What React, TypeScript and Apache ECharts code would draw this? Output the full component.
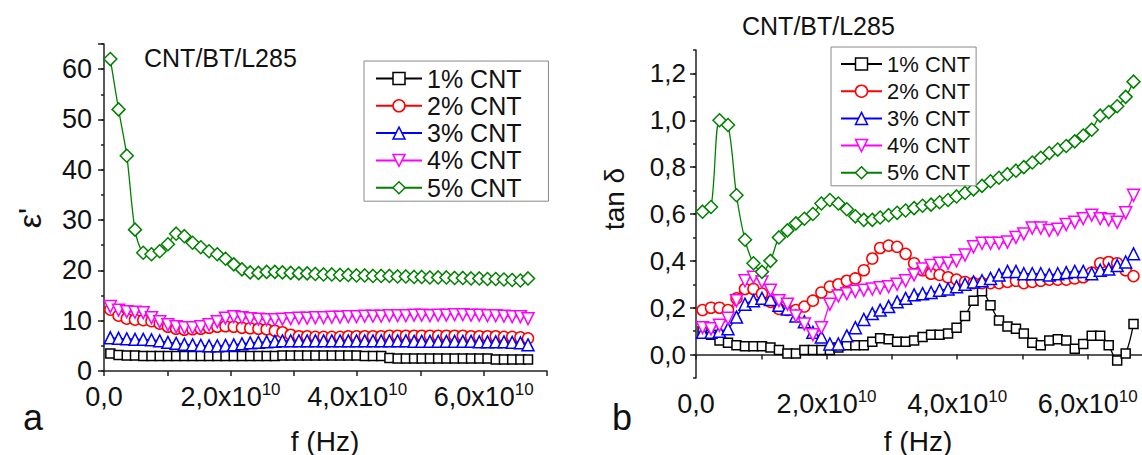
import React, { useEffect, useRef } from "react";
import * as echarts from "echarts";

// frequency in units of 1e10 Hz
const FREQ = [
  0.10, 0.23, 0.36, 0.49, 0.62, 0.75, 0.88, 1.01, 1.14, 1.27,
  1.40, 1.53, 1.66, 1.79, 1.92, 2.05, 2.18, 2.31, 2.44, 2.57,
  2.70, 2.82, 2.95, 3.08, 3.21, 3.34, 3.47, 3.60, 3.73, 3.86,
  3.99, 4.12, 4.25, 4.38, 4.51, 4.64, 4.77, 4.90, 5.02, 5.15,
  5.28, 5.41, 5.54, 5.67, 5.80, 5.93, 6.06, 6.19, 6.32, 6.45,
  6.58, 6.70,
];

const SERIES_NAMES = ["1% CNT", "2% CNT", "3% CNT", "4% CNT", "5% CNT"];

// panel a: epsilon'
const EPS_1 = [
  3.5, 3.2, 3.1, 3.1, 3.0, 3.0, 3.0, 3.0, 3.0, 3.0,
  3.0, 3.0, 3.0, 3.0, 3.0, 3.0, 3.0, 3.0, 3.0, 3.0,
  3.0, 3.1, 3.1, 3.1, 3.1, 3.1, 3.1, 3.1, 3.1, 3.1,
  3.1, 3.0, 3.0, 3.0, 2.6, 2.5, 2.5, 2.5, 2.5, 2.5,
  2.5, 2.5, 2.5, 2.5, 2.5, 2.5, 2.5, 2.3, 2.3, 2.3,
  2.3, 2.3,
];
const EPS_2 = [
  12.2, 11.0, 10.4, 10.2, 10.1, 9.9, 9.4, 8.8, 8.4, 8.2,
  8.3, 8.4, 8.6, 8.8, 8.9, 8.8, 8.6, 8.5, 8.4, 8.3,
  8.0, 7.7, 7.2, 6.9, 6.9, 6.8, 6.8, 6.8, 6.8, 6.9,
  6.9, 6.9, 6.9, 6.9, 7.0, 7.0, 7.0, 7.0, 7.0, 7.0,
  7.0, 7.0, 7.0, 7.0, 6.9, 6.9, 6.9, 6.9, 6.8, 6.8,
  6.7, 6.5,
];
const EPS_3 = [
  6.6, 6.5, 6.4, 6.3, 6.3, 6.2, 6.0, 5.7, 5.5, 5.3,
  5.2, 5.1, 5.0, 5.0, 5.1, 5.2, 5.4, 5.6, 5.7, 5.8,
  5.9, 6.0, 6.0, 6.0, 6.0, 6.0, 6.0, 6.0, 6.0, 6.0,
  6.0, 6.0, 6.0, 6.0, 6.0, 6.0, 6.0, 5.9, 5.9, 5.9,
  5.9, 5.9, 5.9, 5.9, 5.9, 5.8, 5.8, 5.8, 5.8, 5.7,
  5.6, 5.2,
];
const EPS_4 = [
  12.8, 12.1, 11.8, 11.7, 11.6, 10.6, 9.8, 9.2, 8.8, 8.6,
  8.6, 8.8, 9.2, 9.8, 10.5, 10.8, 10.6, 10.4, 10.3, 10.2,
  10.2, 10.3, 10.4, 10.5, 10.5, 10.6, 10.6, 10.7, 10.7, 10.8,
  10.8, 10.9, 10.9, 10.9, 11.0, 11.0, 11.0, 11.1, 11.1, 11.0,
  11.1, 11.1, 11.2, 11.2, 11.1, 11.1, 11.0, 11.0, 10.9, 10.8,
  10.8, 10.4,
];
const EPS_5 = [
  62, 52, 42.8, 28.1, 23.5, 23.2, 23.8, 25.2, 27.3, 26.8,
  25.5, 24.6, 23.8, 23.2, 22.3, 21.2, 20.2, 19.6, 19.5, 19.7,
  19.7, 19.6, 19.5, 19.4, 19.4, 19.3, 19.2, 19.2, 19.1, 19.1,
  19.0, 19.0, 18.9, 18.9, 18.9, 18.8, 18.8, 18.7, 18.7, 18.6,
  18.6, 18.6, 18.5, 18.5, 18.4, 18.4, 18.3, 18.3, 18.2, 18.1,
  18.0, 18.4,
];

// panel b: tan delta
const TAN_1 = [
  0.10, 0.085, 0.06, 0.05, 0.04, 0.035, 0.035, 0.035, 0.03, 0.02,
  0.005, 0.005, 0.02, 0.02, 0.02, 0.02, 0.03, 0.04, 0.04, 0.04,
  0.055, 0.07, 0.065, 0.055, 0.055, 0.06, 0.075, 0.085, 0.085, 0.09,
  0.115, 0.165, 0.23, 0.27, 0.21, 0.145, 0.12, 0.11, 0.09, 0.05,
  0.04, 0.06, 0.065, 0.06, 0.025, 0.045, 0.08, 0.08, 0.04, -0.025,
  0.005, 0.13,
];
const TAN_2 = [
  0.19, 0.20, 0.20, 0.19, 0.24, 0.28, 0.28, 0.26, 0.225, 0.195,
  0.19, 0.19, 0.205, 0.23, 0.265, 0.29, 0.30, 0.315, 0.325, 0.36,
  0.41, 0.455, 0.465, 0.46, 0.43, 0.39, 0.36, 0.345, 0.34, 0.33,
  0.32, 0.31, 0.305, 0.305, 0.305, 0.305, 0.31, 0.315, 0.305, 0.31,
  0.315, 0.32, 0.32, 0.32, 0.325, 0.33, 0.35, 0.39, 0.395, 0.39,
  0.36, 0.335,
];
const TAN_3 = [
  0.095, 0.095, 0.10, 0.11, 0.16, 0.215, 0.23, 0.24, 0.235, 0.21,
  0.195, 0.165, 0.14, 0.095, 0.075, 0.045, 0.045, 0.08, 0.115, 0.15,
  0.175, 0.19, 0.205, 0.225, 0.24, 0.255, 0.26, 0.265, 0.275, 0.28,
  0.29, 0.30, 0.31, 0.315, 0.325, 0.34, 0.355, 0.355, 0.345, 0.345,
  0.345, 0.34, 0.345, 0.35, 0.355, 0.355, 0.345, 0.36, 0.365, 0.38,
  0.395, 0.43,
];
const TAN_4 = [
  0.115, 0.11, 0.125, 0.155, 0.23, 0.315, 0.33, 0.31, 0.275, 0.23,
  0.215, 0.165, 0.13, 0.085, 0.115, 0.215, 0.25, 0.26, 0.27, 0.275,
  0.28, 0.285, 0.29, 0.30, 0.315, 0.34, 0.365, 0.38, 0.39, 0.39,
  0.40, 0.425, 0.46, 0.475, 0.475, 0.475, 0.48, 0.50, 0.515, 0.54,
  0.54, 0.53, 0.535, 0.555, 0.565, 0.58, 0.595, 0.58, 0.575, 0.565,
  0.605, 0.68,
];
const TAN_5 = [
  0.61, 0.63, 1.00, 0.98, 0.68, 0.49, 0.39, 0.353, 0.40, 0.50,
  0.53, 0.56, 0.58, 0.60, 0.645, 0.66, 0.645, 0.62, 0.59, 0.575,
  0.575, 0.585, 0.595, 0.605, 0.615, 0.625, 0.635, 0.64, 0.65, 0.66,
  0.675, 0.69, 0.705, 0.72, 0.74, 0.755, 0.77, 0.785, 0.80, 0.82,
  0.84, 0.86, 0.875, 0.89, 0.91, 0.935, 0.96, 1.02, 1.035, 1.06,
  1.10, 1.165,
];

const X_TICK_LABELS = ["0,0", "2,0x10", "4,0x10", "6,0x10"];
const TAN_MAJOR_TICKS = [0, 0.2, 0.4, 0.6, 0.8, 1.0, 1.2];
const PANEL_TITLE = "CNT/BT/L285";

const COLORS = ["#000000", "#ff0000", "#0000ff", "#ff00ff", "#008000"];
const SYMBOLS = ["rect", "circle", "triangle", "triangle", "diamond"];
const SYMBOL_SIZES = [9, 11, 12, 12, 13];
const SYMBOL_ROTATE = [0, 0, 0, 180, 0];

const FONT = "'Liberation Sans', Arial, sans-serif";
const TXT = "#111";

function xLabel(v: number) {
  const n = Math.round(v);
  if (n === 0) return "{m|" + X_TICK_LABELS[0] + "}";
  if (n % 2 !== 0 || n > 6) return "";
  return "{m|" + X_TICK_LABELS[n / 2] + "}{s|10}";
}

const xRich = {
  m: { fontSize: 27, fontFamily: FONT, color: TXT, lineHeight: 31 },
  s: { fontSize: 17, fontFamily: FONT, color: TXT, lineHeight: 17, verticalAlign: "top" },
};

function makeSeries(data: number[][], xAxisIndex: number, yAxisIndex: number) {
  return data.map((vals, k) => ({
    name: SERIES_NAMES[k],
    type: "line",
    xAxisIndex,
    yAxisIndex,
    data: FREQ.map((f, i) => [f, vals[i]]),
    symbol: SYMBOLS[k],
    symbolSize: SYMBOL_SIZES[k],
    symbolRotate: SYMBOL_ROTATE[k],
    smooth: 0.3,
    lineStyle: { color: COLORS[k], width: 1.3 },
    itemStyle: { color: "#ffffff", borderColor: COLORS[k], borderWidth: 1.5 },
    emphasis: { disabled: true },
  }));
}

export default function App() {
  const ref = useRef<HTMLDivElement>(null);
  useEffect(() => {
    if (!ref.current) return;
    const chart = echarts.init(ref.current, undefined, { renderer: "svg" });
    const axisLine = { show: true, lineStyle: { color: "#222", width: 1.5 } };
    const tickStyle = { color: "#222", width: 1.5 };
    const legendBase = {
      orient: "vertical",
      itemHeight: 15,
      borderColor: "#888",
      borderWidth: 1,
      backgroundColor: "#fff",
      itemStyle: { borderWidth: 1.5 },
      data: SERIES_NAMES,
      selectedMode: false,
    };
    const option: any = {
      animation: false,
      backgroundColor: "#ffffff",
      grid: [
        { left: 104, top: 44, width: 443, height: 327 },
        { left: 696, top: 50, width: 446, height: 328 },
      ],
      xAxis: [
        {
          type: "value", gridIndex: 0, min: 0, max: 7, interval: 1,
          axisLine, splitLine: { show: false },
          axisTick: { show: true, length: 5, lineStyle: tickStyle },
          axisLabel: { formatter: xLabel, rich: xRich, margin: 10 },
        },
        {
          type: "value", gridIndex: 1, min: 0, max: 6.83, interval: 1,
          axisLine, splitLine: { show: false },
          axisTick: { show: true, length: 5, lineStyle: tickStyle },
          axisLabel: { formatter: xLabel, rich: xRich, margin: 10, showMaxLabel: false },
        },
      ],
      yAxis: [
        {
          type: "value", gridIndex: 0, position: "left", min: 0, max: 65, interval: 5,
          axisLine, splitLine: { show: false },
          axisTick: { show: true, length: 3, lineStyle: tickStyle },
          axisLabel: {
            formatter: (v: number) => (Math.round(v) % 10 === 0 ? String(Math.round(v)) : ""),
            fontSize: 27, fontFamily: FONT, color: TXT, margin: 12,
          },
        },
        {
          type: "value", gridIndex: 0, position: "left", min: 0, max: 65, interval: 10,
          axisLine: { show: false }, splitLine: { show: false },
          axisTick: { show: true, length: 6, lineStyle: tickStyle },
          axisLabel: { show: false },
        },
        {
          type: "value", gridIndex: 1, position: "left", min: -0.1, max: 1.3, interval: 0.1,
          axisLine, splitLine: { show: false },
          axisTick: { show: true, length: 3, lineStyle: tickStyle },
          axisLabel: {
            formatter: (v: number) => {
              const n = Math.round(v * 10);
              if (n < 0 || n % 2 !== 0 || n > 12) return "";
              return (n / 10).toFixed(1).replace(".", ",");
            },
            fontSize: 26, fontFamily: FONT, color: TXT, margin: 10,
          },
        },
        {
          type: "value", gridIndex: 1, position: "left", min: -0.1, max: 1.3,
          axisLine: { show: false }, splitLine: { show: false },
          axisTick: { show: true, length: 6, lineStyle: tickStyle, customValues: TAN_MAJOR_TICKS },
          axisLabel: { show: false, customValues: TAN_MAJOR_TICKS },
        },
      ],
      legend: [
        {
          ...legendBase,
          left: 364, top: 61,
          itemWidth: 46,
          itemGap: 2.3,
          padding: [5, 27, 1, 11],
          textStyle: { fontSize: 25, fontFamily: FONT, color: TXT, lineHeight: 25 },
        },
        {
          ...legendBase,
          left: 831, top: 47,
          itemWidth: 41,
          itemGap: 5.2,
          padding: [6, 6, 2, 9],
          textStyle: { fontSize: 22, fontFamily: FONT, color: TXT, lineHeight: 22 },
        },
      ],
      graphic: [
        { type: "text", left: 144, top: 45, style: { text: PANEL_TITLE, fontSize: 25, fontFamily: FONT, fill: TXT } },
        { type: "text", left: 742, top: 13, style: { text: PANEL_TITLE, fontSize: 25, fontFamily: FONT, fill: TXT } },
        { type: "text", x: 30, y: 218, rotation: Math.PI / 2, style: { text: "ε'", fontSize: 32, fontFamily: FONT, fill: TXT, align: "center", verticalAlign: "middle" } },
        { type: "text", x: 614, y: 199, rotation: Math.PI / 2, style: { text: "tan δ", fontSize: 28, fontFamily: FONT, fill: TXT, align: "center", verticalAlign: "middle" } },
        { type: "text", x: 325, y: 441, style: { text: "f (Hz)", fontSize: 28, fontFamily: FONT, fill: TXT, align: "center", verticalAlign: "middle" } },
        { type: "text", x: 918, y: 441, style: { text: "f (Hz)", fontSize: 28, fontFamily: FONT, fill: TXT, align: "center", verticalAlign: "middle" } },
        { type: "text", x: 33, y: 417, style: { text: "a", fontSize: 36, fontFamily: FONT, fill: TXT, align: "center", verticalAlign: "middle" } },
        { type: "text", x: 622, y: 417, style: { text: "b", fontSize: 36, fontFamily: FONT, fill: TXT, align: "center", verticalAlign: "middle" } },
      ],
      series: [
        ...makeSeries([EPS_1, EPS_2, EPS_3, EPS_4, EPS_5], 0, 0),
        ...makeSeries([TAN_1, TAN_2, TAN_3, TAN_4, TAN_5], 1, 2),
      ],
    };
    chart.setOption(option);
    return () => chart.dispose();
  }, []);
  return (
    <div
      ref={ref}
      style={{ position: "fixed", left: 0, top: 0, width: 1142, height: 455, background: "#fff" }}
    />
  );
}
